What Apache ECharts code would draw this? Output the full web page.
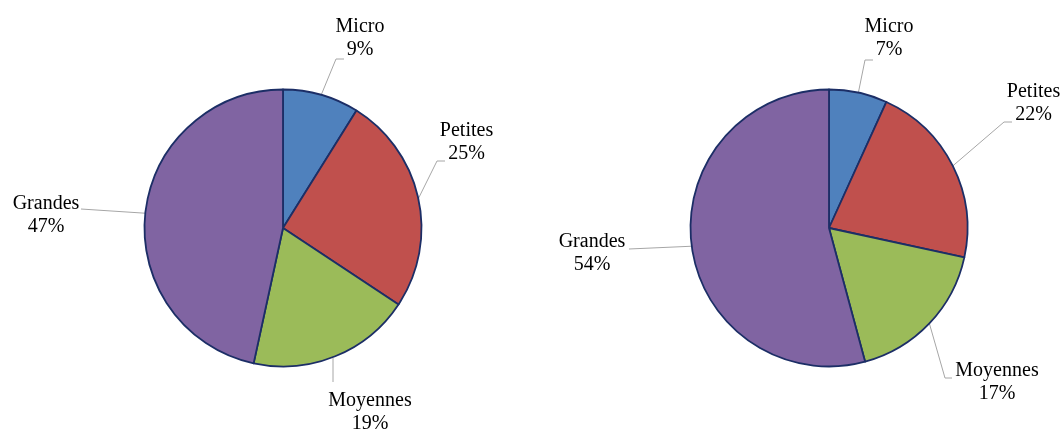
<!DOCTYPE html>
<html>
<head>
<meta charset="utf-8">
<script src="https://cdn.jsdelivr.net/npm/echarts@6/dist/echarts.min.js"></script>
<style>html,body{margin:0;padding:0;background:#fff}#c{width:1062px;height:429px}</style>
</head>
<body>
<div id="c"></div>
<script>
var categories = ['Micro', 'Petites', 'Moyennes', 'Grandes'];
var leftValues = [8.9, 25.4, 19.1, 46.6];
var rightValues = [6.8, 21.6, 17.4, 54.2];

// label layout (label block centre, bend point, end point) per pie
var leftLayout = [
  {x: 360, y: 38, pts: [[336, 59], [344, 59]]},
  {x: 466.5, y: 142.5, pts: [[437, 161], [445, 161]]},
  {x: 370, y: 412.5, start: [333, 358], pts: [[333, 382]]},
  {x: 46, y: 215, pts: [[81, 209]]}
];
var rightLayout = [
  {x: 889, y: 38, pts: [[865, 60], [873, 60]]},
  {x: 1033.5, y: 103, pts: [[1004, 122], [1012, 122]]},
  {x: 997, y: 382, pts: [[945, 378], [952, 378]]},
  {x: 592, y: 253.5, pts: [[629, 249]]}
];
var colors = ['#4F81BD', '#C0504D', '#9BBB59', '#8064A2'];

function makeLayout(layout) {
  return function (params) {
    var L = layout[params.dataIndex];
    var start = L.start || (params.labelLinePoints ? params.labelLinePoints[0] : L.pts[0]);
    var pts = [start].concat(L.pts);
    if (pts.length === 2) pts.push(pts[1]);
    return {x: L.x, y: L.y, align: 'center', verticalAlign: 'middle', labelLinePoints: pts};
  };
}

function series(values, center, layout) {
  return {
    type: 'pie',
    center: center,
    radius: 138.5,
    startAngle: 90,
    clockwise: true,
    avoidLabelOverlap: false,
    animation: false,
    data: categories.map(function (c, i) { return {name: c, value: values[i]}; }),
    itemStyle: {borderColor: '#1C2E66', borderWidth: 1.8},
    label: {
      show: true,
      position: 'outside',
      formatter: function (p) { return p.name + '\n' + Math.round(p.value) + '%'; },
      fontFamily: 'Liberation Serif',
      fontSize: 20,
      lineHeight: 23,
      color: '#000',
      align: 'center'
    },
    labelLine: {show: true, length: 15, length2: 8, lineStyle: {color: '#A6A6A6', width: 1}},
    labelLayout: makeLayout(layout),
    emphasis: {disabled: true}
  };
}

var chart = echarts.init(document.getElementById('c'));
chart.setOption({
  animation: false,
  color: colors,
  series: [
    series(leftValues, [283, 228], leftLayout),
    series(rightValues, [829, 228], rightLayout)
  ]
});
</script>
</body>
</html>
